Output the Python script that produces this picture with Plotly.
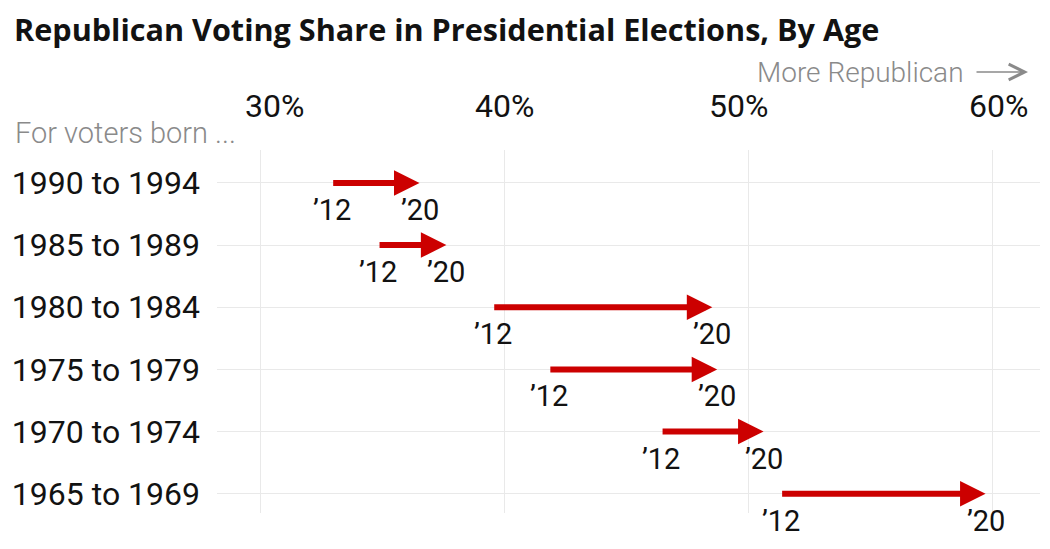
import plotly.graph_objects as go

# ---- data ----
cohorts = ["1990 to 1994", "1985 to 1989", "1980 to 1984",
           "1975 to 1979", "1970 to 1974", "1965 to 1969"]
share_2012 = [32.9, 34.8, 39.5, 41.8, 46.4, 51.3]
share_2020 = [36.5, 37.6, 48.5, 48.7, 50.6, 59.7]
label_2012 = "’12"
label_2020 = "’20"
tick_vals = [30, 40, 50, 60]
tick_labels = ["30%", "40%", "50%", "60%"]

# ---- style ----
RED = "#cc0000"
INK = "#121212"
GRAY = "#8a8a8a"
GRID = "#e9e9e9"
FONT = "Roboto"
W, H = 1050, 549
ML, MR, MT, MB = 217, 10, 150, 36
PW = W - ML - MR

def px_to_paper_x(px):
    return (px - ML) / PW

rows = list(range(len(cohorts)))

fig = go.Figure()
# invisible anchor trace spanning the data
fig.add_trace(go.Scatter(
    x=share_2012 + share_2020, y=rows + rows, mode="markers",
    marker=dict(opacity=0), hoverinfo="skip", showlegend=False))

annotations = []
for i, (a, b) in enumerate(zip(share_2012, share_2020)):
    annotations.append(dict(
        x=b, y=i, ax=a, ay=i, xref="x", yref="y", axref="x", ayref="y",
        text="", showarrow=True, arrowhead=2, arrowsize=0.85, arrowwidth=6,
        arrowcolor=RED, standoff=0, startstandoff=0))
    annotations.append(dict(
        x=a, y=i, xref="x", yref="y", text=label_2012, showarrow=False,
        yshift=-27, font=dict(family=FONT, size=29, color=INK)))
    annotations.append(dict(
        x=b, y=i, xref="x", yref="y", text=label_2020, showarrow=False,
        yshift=-27, font=dict(family=FONT, size=29, color=INK)))

# x tick labels (top)
tick_shift = [14, 0, -10, 6]
for v, t, s in zip(tick_vals, tick_labels, tick_shift):
    annotations.append(dict(
        x=v, y=1, xref="x", yref="paper", text=t, showarrow=False,
        xanchor="center", yanchor="middle", xshift=s, yshift=44,
        font=dict(family=FONT, size=32, color=INK)))

# header texts
annotations.append(dict(
    x=px_to_paper_x(12), y=1, xref="paper", yref="paper", xanchor="left",
    yanchor="middle", yshift=MT - 29, showarrow=False,
    text="<b>Republican Voting Share in Presidential Elections, By Age</b>",
    font=dict(family="Open Sans", size=30.6, color=INK)))
annotations.append(dict(
    x=px_to_paper_x(966), y=1, xref="paper", yref="paper", xanchor="right",
    yanchor="middle", yshift=MT - 72, showarrow=False,
    text="More Republican", font=dict(family=FONT, size=28, color=GRAY, weight=300)))
annotations.append(dict(
    x=px_to_paper_x(1028), y=1, xref="paper", yref="paper",
    yshift=MT - 72, showarrow=True, ax=-53, ay=0, axref="pixel", ayref="pixel",
    text="", arrowhead=5, arrowsize=2.4, arrowwidth=1.3, arrowcolor=GRAY))
annotations.append(dict(
    x=px_to_paper_x(13), y=1, xref="paper", yref="paper", xanchor="left",
    yanchor="middle", yshift=MT - 133, showarrow=False,
    text="For voters born ...", font=dict(family=FONT, size=29, color=GRAY, weight=300)))

fig.update_layout(
    width=W, height=H,
    margin=dict(l=ML, r=MR, t=MT, b=MB),
    paper_bgcolor="white", plot_bgcolor="white",
    showlegend=False,
    annotations=annotations,
    xaxis=dict(range=[28.2, 61.93], tickvals=tick_vals, showticklabels=False,
               showgrid=True, gridcolor=GRID, gridwidth=1, zeroline=False,
               showline=False, ticks="", fixedrange=True),
    yaxis=dict(range=[5.31, -0.53], tickvals=rows, ticktext=cohorts,
               showgrid=True, gridcolor=GRID, gridwidth=1, zeroline=False,
               showline=False, ticks="", ticklabelstandoff=16,
               tickfont=dict(family=FONT, size=32, color=INK), fixedrange=True),
)

fig.write_html("out.html", config={"displayModeBar": False},
               post_script="document.body.style.margin='0';")
